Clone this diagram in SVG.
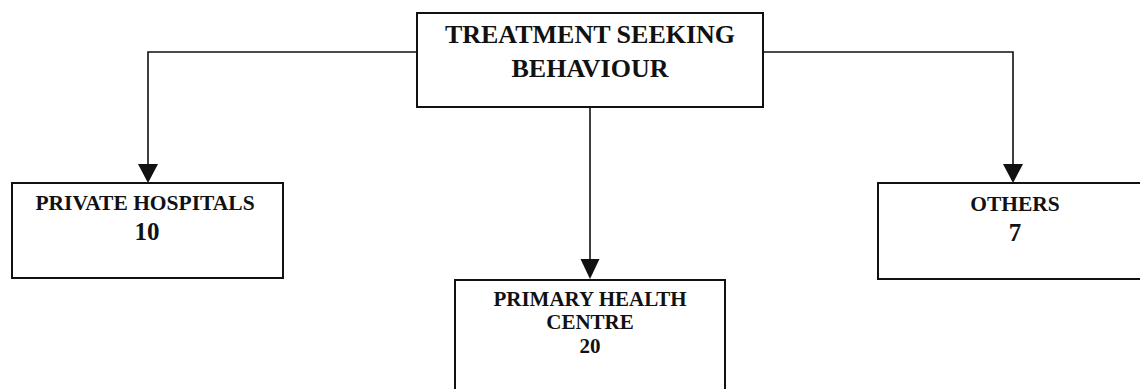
<svg xmlns="http://www.w3.org/2000/svg" width="1140" height="389" viewBox="0 0 1140 389">
<style>
.box{fill:#fff;stroke:#111;stroke-width:2}
.con{fill:none;stroke:#111;stroke-width:1.6}
.head{fill:#111}
text{font-family:"Liberation Serif","Times New Roman",serif;font-weight:bold;fill:#111;text-anchor:middle}
.t1{font-size:26px}
.t2{font-size:21px}
.t3{font-size:21.5px}
.num{font-size:25px}
</style>
<g id="connectors">
<polyline class="con" points="417,52 148,52 148,165"/>
<path class="head" d="M138,164 L158,164 L148,183 Z"/>
<polyline class="con" points="763,52 1013,52 1013,165"/>
<path class="head" d="M1003,164 L1023,164 L1013,183 Z"/>
<line class="con" x1="590" y1="107" x2="590" y2="260"/>
<path class="head" d="M580.5,259 L599.5,259 L590,279 Z"/>
</g>
<g id="node-root">
<rect class="box" x="417" y="13" width="346" height="94"/>
<text class="t1" x="590" y="43">TREATMENT SEEKING</text>
<text class="t1" x="590" y="77">BEHAVIOUR</text>
</g>
<g id="node-private">
<rect class="box" x="12" y="183" width="271" height="95"/>
<text class="t3" x="145" y="210">PRIVATE HOSPITALS</text>
<text class="num" x="147" y="240">10</text>
</g>
<g id="node-phc">
<rect class="box" x="455" y="280" width="270" height="120"/>
<text class="t2" x="590" y="306">PRIMARY HEALTH</text>
<text class="t2" x="590" y="329">CENTRE</text>
<text class="t2" x="590" y="353">20</text>
</g>
<g id="node-others">
<rect class="box" x="878" y="183" width="280" height="96"/>
<text class="t3" x="1015" y="211">OTHERS</text>
<text class="num" x="1015" y="241">7</text>
</g>
</svg>
